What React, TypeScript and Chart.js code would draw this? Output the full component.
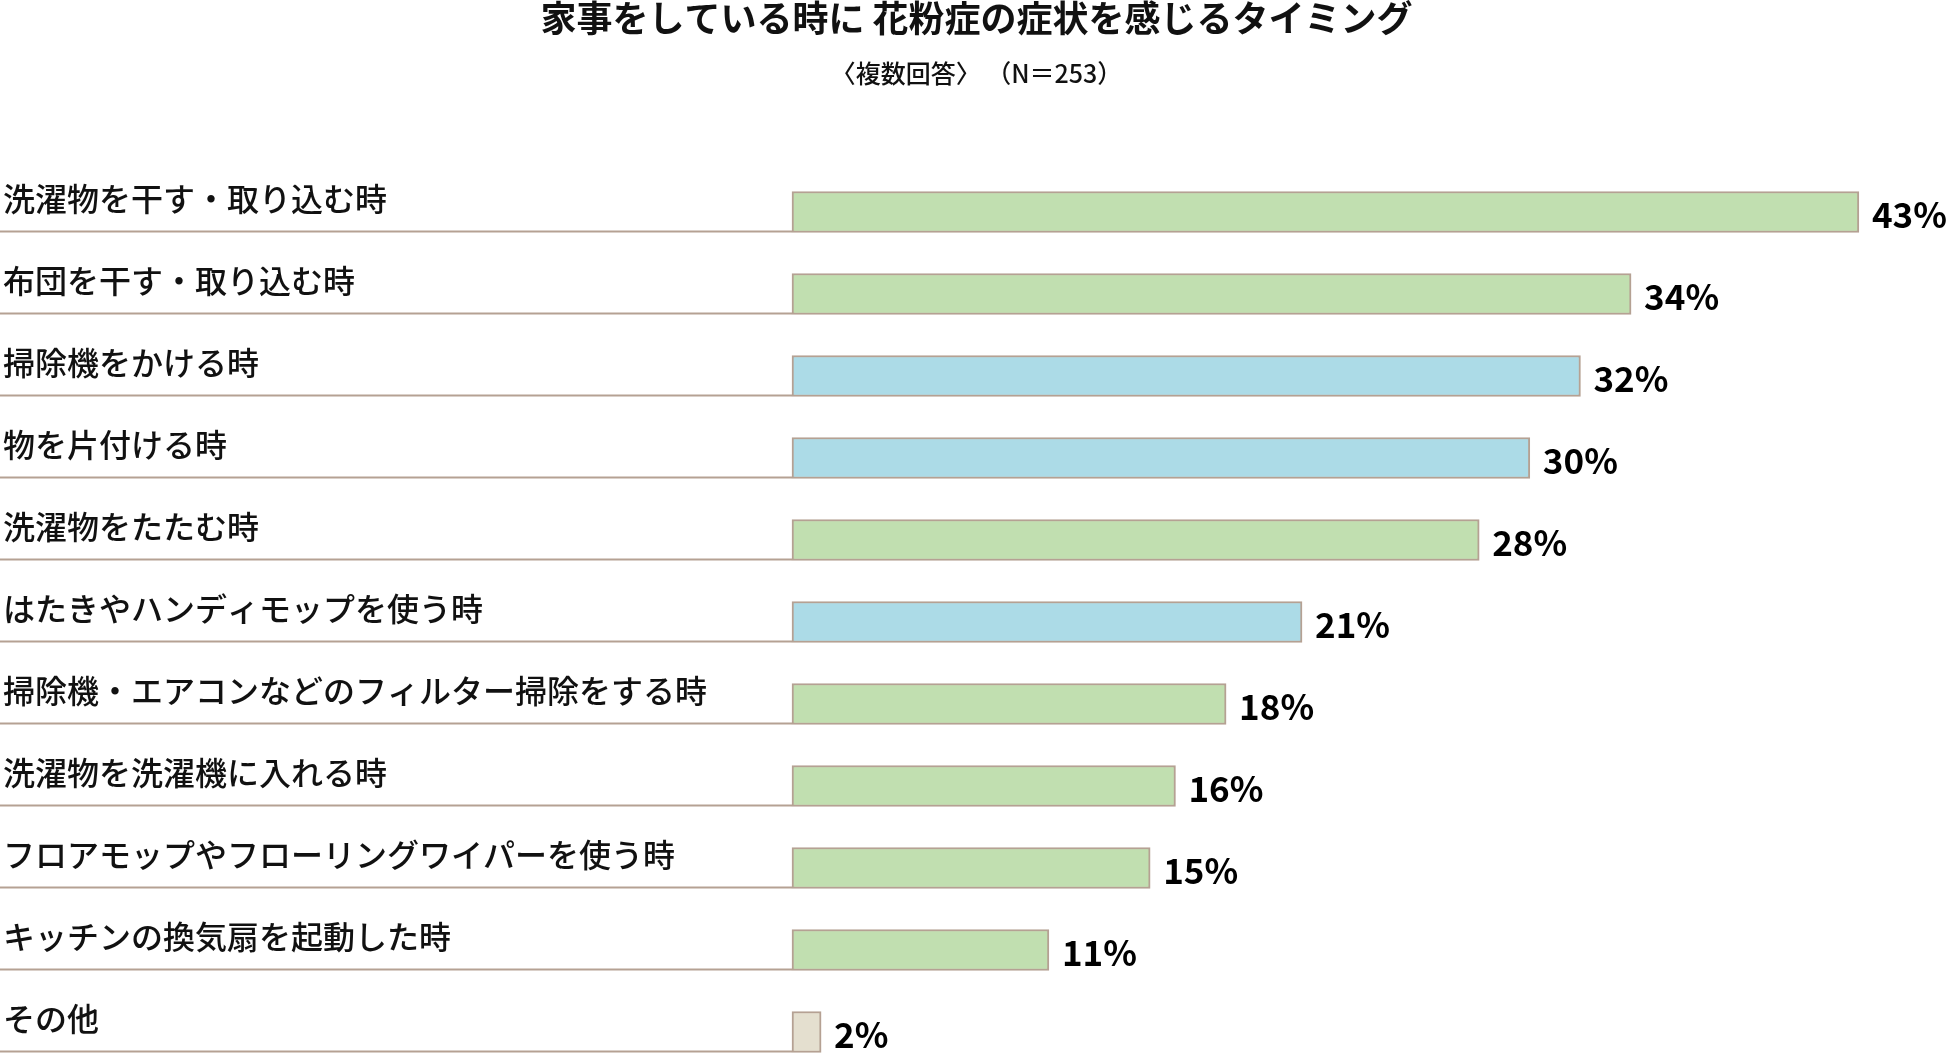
import React, { useEffect, useRef } from "react";
import { Chart, registerables } from "chart.js";

Chart.register(...registerables);

const titleText = "家事をしている時に 花粉症の症状を感じるタイミング";
const subtitleText = "〈複数回答〉 （N＝253）";

const categories = [
  "洗濯物を干す・取り込む時",
  "布団を干す・取り込む時",
  "掃除機をかける時",
  "物を片付ける時",
  "洗濯物をたたむ時",
  "はたきやハンディモップを使う時",
  "掃除機・エアコンなどのフィルター掃除をする時",
  "洗濯物を洗濯機に入れる時",
  "フロアモップやフローリングワイパーを使う時",
  "キッチンの換気扇を起動した時",
  "その他",
];

const values = [43, 34, 32, 30, 28, 21, 18, 16, 15, 11, 2];

// group of each bar: g = green, b = blue, o = other
const groups = ["g", "g", "b", "b", "g", "b", "g", "g", "g", "g", "o"];

const X_MIN = 0.85;
const X_MAX = 46.6;

const GREEN = "#c1dfb0";
const BLUE = "#acdbe7";
const BEIGE = "#e4dfcf";
const BORDER = "#b5a193";

const colorFor = (g: string) => (g === "b" ? BLUE : g === "o" ? BEIGE : GREEN);

const FONT_JP = "'Noto Sans CJK JP', 'Noto Sans', sans-serif";

const rowLines = {
  id: "rowLines",
  beforeDatasetsDraw(chart: any) {
    const ctx = chart.ctx;
    const meta = chart.getDatasetMeta(0);
    ctx.save();
    ctx.strokeStyle = BORDER;
    ctx.lineWidth = 2;
    meta.data.forEach((bar: any) => {
      const p = bar.getProps(["x", "y", "base", "height"], true);
      const yy = p.y + p.height / 2 - 1;
      ctx.beginPath();
      ctx.moveTo(0, yy);
      ctx.lineTo(p.base, yy);
      ctx.stroke();
    });
    ctx.restore();
  },
};

const valueLabels = {
  id: "valueLabels",
  afterDatasetsDraw(chart: any) {
    const ctx = chart.ctx;
    const meta = chart.getDatasetMeta(0);
    const data = chart.data.datasets[0].data;
    ctx.save();
    ctx.fillStyle = "#000";
    ctx.font = `bold 35px ${FONT_JP}`;
    ctx.textAlign = "left";
    ctx.textBaseline = "middle";
    meta.data.forEach((bar: any, i: number) => {
      const p = bar.getProps(["x", "y"], true);
      ctx.fillText(`${data[i]}%`, p.x + 13, p.y + 3);
    });
    ctx.restore();
  },
};

export default function App() {
  const ref = useRef<HTMLCanvasElement | null>(null);

  useEffect(() => {
    if (!ref.current) return;
    const chart = new Chart(ref.current, {
      type: "bar",
      data: {
        labels: categories,
        datasets: [
          {
            data: values,
            base: X_MIN,
            backgroundColor: groups.map(colorFor),
            borderColor: BORDER,
            borderWidth: 2,
            borderSkipped: false,
            barThickness: 41,
            clip: false as any,
          } as any,
        ],
      },
      options: {
        indexAxis: "y",
        animation: false,
        responsive: false,
        layout: { padding: { left: 3, right: 0, top: 0, bottom: 23 } },
        plugins: {
          legend: { display: false },
          tooltip: { enabled: false },
          title: {
            display: true,
            text: titleText,
            color: "#111",
            font: { family: FONT_JP, size: 36, weight: "bold", lineHeight: 1 },
            padding: { top: 0, bottom: 25 },
          },
          subtitle: {
            display: true,
            text: subtitleText,
            color: "#111",
            font: { family: FONT_JP, size: 25, weight: "500", lineHeight: 1 },
            padding: { top: 0, bottom: 126 },
          },
        },
        scales: {
          x: {
            display: false,
            beginAtZero: false,
            min: X_MIN,
            max: X_MAX,
          },
          y: {
            type: "category",
            offset: false,
            grid: { display: false },
            border: { display: false },
            ticks: {
              crossAlign: "far",
              labelOffset: -13,
              padding: 0,
              color: "#111",
              font: { family: FONT_JP, size: 32, weight: "500" },
            },
            afterFit(scale: any) {
              scale.width = 792 - 3;
            },
          },
        },
      },
      plugins: [rowLines, valueLabels],
    });
    return () => chart.destroy();
  }, []);

  return (
    <div style={{ position: "fixed", left: 0, top: 0, width: 1950, height: 1055, background: "#fff" }}>
      <canvas ref={ref} width={1950} height={1055} />
    </div>
  );
}
